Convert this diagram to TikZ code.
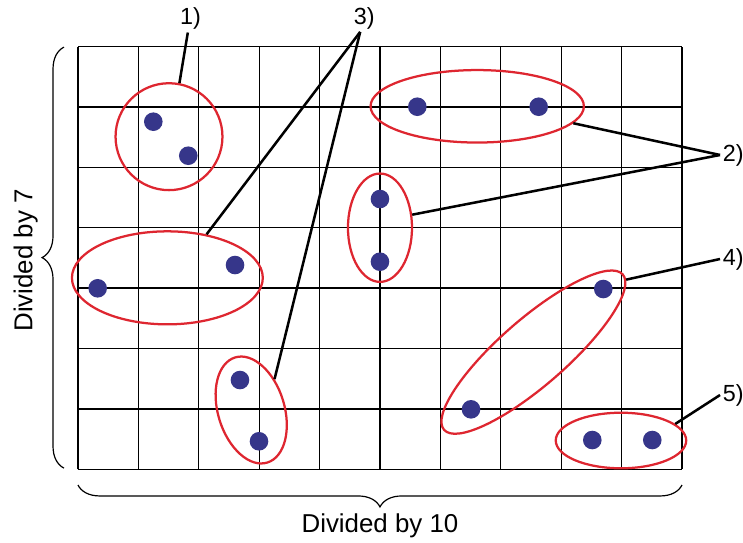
\documentclass[tikz,border=0pt]{standalone}
\usepackage{fontspec}
\setmainfont{Liberation Sans}
\usetikzlibrary{shapes.geometric,decorations.pathreplacing}

\definecolor{dotblue}{RGB}{54,54,138}
\definecolor{groupred}{RGB}{222,38,48}

\tikzset{
  gridline/.style={black, line width=1.0pt},
  group/.style={draw=groupred, line width=1.7pt, ellipse, inner sep=0pt},
  leader/.style={black, line width=1.9pt},
  tag/.style={inner sep=2pt, font=\fontsize{17.6}{20}\selectfont},
  bracemark/.style={decorate, decoration={brace, amplitude=16.5pt}, line width=0.9pt},
  caption/.style={anchor=base, font=\fontsize{19.5}{23}\selectfont},
  sampledot/.style={fill=dotblue}
}

\begin{document}
\begin{tikzpicture}[x=1.6cm,y=1.6cm]
\useasboundingbox (-1.291,-1.204) rectangle (11.010,7.770);
% grid 10 by 7
\draw[gridline] (0,0) -- (0,7);
\draw[gridline] (1,0) -- (1,7);
\draw[gridline] (2,0) -- (2,7);
\draw[gridline] (3,0) -- (3,7);
\draw[gridline] (4,0) -- (4,7);
\draw[gridline] (5,0) -- (5,7);
\draw[gridline] (6,0) -- (6,7);
\draw[gridline] (7,0) -- (7,7);
\draw[gridline] (8,0) -- (8,7);
\draw[gridline] (9,0) -- (9,7);
\draw[gridline] (10,0) -- (10,7);
\draw[gridline] (0,0) -- (10,0);
\draw[gridline] (0,1) -- (10,1);
\draw[gridline] (0,2) -- (10,2);
\draw[gridline] (0,3) -- (10,3);
\draw[gridline] (0,4) -- (10,4);
\draw[gridline] (0,5) -- (10,5);
\draw[gridline] (0,6) -- (10,6);
\draw[gridline] (0,7) -- (10,7);
% samples
\fill[sampledot] (1.247,5.755) circle (0.154);
\fill[sampledot] (1.826,5.192) circle (0.154);
\fill[sampledot] (5.618,6.003) circle (0.154);
\fill[sampledot] (7.627,6.003) circle (0.154);
\fill[sampledot] (5.0,4.475) circle (0.154);
\fill[sampledot] (5.0,3.437) circle (0.154);
\fill[sampledot] (0.326,2.997) circle (0.154);
\fill[sampledot] (2.6,3.382) circle (0.154);
\fill[sampledot] (2.682,1.478) circle (0.154);
\fill[sampledot] (2.997,0.464) circle (0.154);
\fill[sampledot] (8.697,2.985) circle (0.154);
\fill[sampledot] (6.507,0.993) circle (0.154);
\fill[sampledot] (8.515,0.485) circle (0.154);
\fill[sampledot] (9.508,0.485) circle (0.154);
% groups
\node[group, minimum width=2.832cm, minimum height=2.832cm] (g1) at (1.507,5.507) {};
\node[group, minimum width=5.651cm, minimum height=1.92cm] (g2) at (6.61,6.01) {};
\node[group, minimum width=1.696cm, minimum height=2.87cm] (g3) at (5.0,4.0) {};
\node[group, minimum width=5.056cm, minimum height=2.464cm] (g4) at (1.48,3.17) {};
\node[group, minimum width=1.76cm, minimum height=2.912cm, rotate=17] (g5) at (2.868,0.982) {};
\node[group, minimum width=6.272cm, minimum height=1.76cm, rotate=41] (g6) at (7.54,1.94) {};
\node[group, minimum width=3.456cm, minimum height=1.472cm] (g7) at (8.99,0.477) {};
% tags
\node[tag] (n1) at (1.863,7.46) {1)};
\node[tag] (n3) at (4.738,7.47) {3)};
\node[tag] (n2) at (10.85,5.204) {2)};
\node[tag] (n4) at (10.85,3.482) {4)};
\node[tag] (n5) at (10.85,1.230) {5)};
\draw[leader] (n1.-101) -- (g1.79);
\draw[leader] (n2.west) -- (g2.-10);
\draw[leader] (n2.west) -- (g3.22);
\draw[leader] (n3.-106) -- (g4.48);
\draw[leader] (n3.-106) -- (g5.36);
\draw[leader] (n4.west) -- (g6.-3);
\draw[leader] (n5.west) -- (g7.17);
% braces
\draw[bracemark] (-0.232,0.02) -- (-0.232,6.99);
\draw[bracemark] (10,-0.26) -- (0,-0.26);
\node[caption] (cx) at (5.0,-1.04) {Divided by 10};
\node[caption, rotate=90] (cy) at (-0.757,3.46) {Divided by 7};
\end{tikzpicture}
\end{document}
